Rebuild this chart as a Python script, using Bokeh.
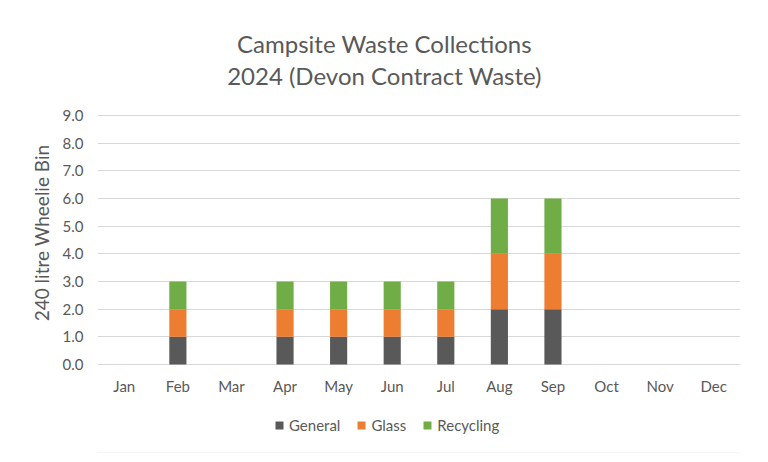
from bokeh.plotting import figure
from bokeh.models import FactorRange, FixedTicker, NumeralTickFormatter, Label, Legend, LegendItem, Range1d
from bokeh.embed import file_html
from bokeh.resources import INLINE

months = ["Jan", "Feb", "Mar", "Apr", "May", "Jun", "Jul", "Aug", "Sep", "Oct", "Nov", "Dec"]
general = [0, 1, 0, 1, 1, 1, 1, 2, 2, 0, 0, 0]
glass = [0, 1, 0, 1, 1, 1, 1, 2, 2, 0, 0, 0]
recycling = [0, 1, 0, 1, 1, 1, 1, 2, 2, 0, 0, 0]
series = ["General", "Glass", "Recycling"]
colors = ["#595959", "#ED7D31", "#70AD47"]
y_ticks = [0, 1, 2, 3, 4, 5, 6, 7, 8, 9]
title_lines = ["Campsite Waste Collections", "2024 (Devon Contract Waste)"]

FONT = "Lato"
TXT = "#595959"

p = figure(x_range=FactorRange(*months, range_padding=0), y_range=Range1d(-3.181, 12.687),
           x_axis_location="above",
           width=766, height=460, output_backend="svg", toolbar_location=None,
           min_border_left=97, min_border_right=26, min_border_top=13, min_border_bottom=8)
p.outline_line_color = None
p.border_fill_color = "white"
p.styles = {"outline": "1px solid #D9D9D9", "outline-offset": "-8px"}

data = dict(months=months, General=general, Glass=glass, Recycling=recycling)
rs = p.vbar_stack(series, x="months", width=0.32, color=colors, source=data, line_width=0)

p.xgrid.grid_line_color = None
p.ygrid.grid_line_color = "#D9D9D9"
p.ygrid.grid_line_width = 1

p.yaxis.ticker = FixedTicker(ticks=y_ticks)
p.yaxis.formatter = NumeralTickFormatter(format="0.0")
for ax in (p.xaxis[0], p.yaxis[0]):
    ax.axis_line_color = None
    ax.major_tick_line_color = None
    ax.minor_tick_line_color = None
    ax.major_tick_out = 0
    ax.minor_tick_out = 0
    ax.major_label_text_font = FONT
    ax.major_label_text_font_size = "15px"
    ax.major_label_text_color = TXT
p.xaxis.fixed_location = 0
p.xaxis.major_label_standoff = -31
p.yaxis.major_label_standoff = 14
p.yaxis.axis_label = "240 litre Wheelie Bin"
p.yaxis.axis_label_text_font = FONT
p.yaxis.axis_label_text_font_size = "19px"
p.yaxis.axis_label_text_font_style = "normal"
p.yaxis.axis_label_text_color = TXT
p.yaxis.axis_label_standoff = 7

for txt, yv in zip(title_lines, [11.6, 10.45]):
    p.add_layout(Label(x=5.356, y=yv, text=txt, text_align="center", text_baseline="middle",
                       text_font=FONT, text_font_size="24px", text_color=TXT))

legend = Legend(items=[LegendItem(label=s, renderers=[r]) for s, r in zip(series, rs)],
                orientation="horizontal", location=(177, 18), margin=0, padding=0,
                label_text_font=FONT, label_text_font_size="15px", label_text_color=TXT,
                glyph_width=10, glyph_height=10, spacing=16, label_standoff=5,
                border_line_color=None, background_fill_alpha=0)
p.add_layout(legend, "center")

html = file_html(p, INLINE)
open("out.html", "w").write(html)
